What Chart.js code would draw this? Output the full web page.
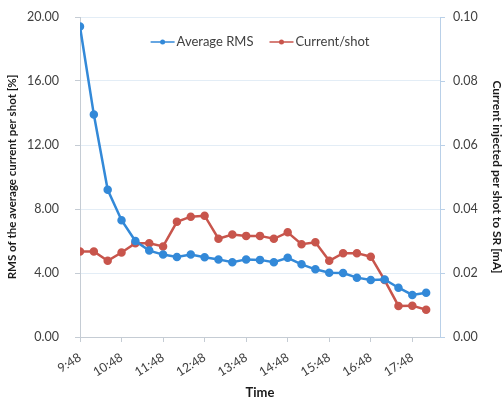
<!DOCTYPE html>
<html>
<head>
<meta charset="utf-8">
<script src="https://cdn.jsdelivr.net/npm/chart.js@4.4.1/dist/chart.umd.min.js"></script>
<style>
  html, body { margin: 0; padding: 0; background: #fff; }
  #wrap { width: 504px; height: 399px; position: relative; }
</style>
</head>
<body>
<div id="wrap"><canvas id="myChart"></canvas></div>
<script>
// data
const times = ['9:48', '10:08', '10:28', '10:48', '11:08', '11:28', '11:48', '12:08', '12:28',
    '12:48', '13:08', '13:28', '13:48', '14:08', '14:28', '14:48', '15:08', '15:28',
    '15:48', '16:08', '16:28', '16:48', '17:08', '17:28', '17:48', '18:08'];
const avgRms = [19.4, 13.9, 9.2, 7.3, 6.0, 5.4, 5.15, 5.0, 5.15, 4.98, 4.85, 4.67, 4.85,
    4.82, 4.67, 4.95, 4.54, 4.23, 4.02, 4.0, 3.71, 3.56, 3.6, 3.08, 2.63, 2.77];
const currentShot = [0.0267, 0.0267, 0.0238, 0.0264, 0.0293, 0.0293, 0.0283, 0.036, 0.0376,
    0.0379, 0.0307, 0.032, 0.0316, 0.0316, 0.0307, 0.0327, 0.029, 0.0296, 0.0238, 0.0262,
    0.0262, 0.0251, 0.0178, 0.0097, 0.0098, 0.0085];
const timeTicks = ['9:48', '10:48', '11:48', '12:48', '13:48', '14:48', '15:48', '16:48', '17:48'];

const toMin = t => { const p = t.split(':'); return +p[0] * 60 + +p[1]; };
const start = toMin(times[0]);

const blue = '#3389d8';
const red = '#c8554c';
const txt = '#404040';
const font = 'Lato';

// legend sits inside the plot, centred near the top
const innerLegend = {
    id: 'innerLegend',
    afterDraw(chart) {
        const c = chart.ctx, area = chart.chartArea;
        c.save();
        c.font = '13px ' + font;
        c.textBaseline = 'middle';
        const sample = 24, gap = 2, between = 16;
        const items = chart.data.datasets.map(ds => ({ ds, w: sample + gap + c.measureText(ds.label).width }));
        const total = items.reduce((s, it) => s + it.w, 0) + between * (items.length - 1);
        let x = (area.left + area.right) / 2 - total / 2;
        const y = area.top + 25;
        items.forEach(it => {
            c.strokeStyle = it.ds.borderColor;
            c.fillStyle = it.ds.borderColor;
            c.lineWidth = 1.5;
            c.beginPath();
            c.moveTo(x, y);
            c.lineTo(x + sample, y);
            c.stroke();
            c.beginPath();
            c.arc(x + sample / 2, y, 2.5, 0, Math.PI * 2);
            c.fill();
            c.fillStyle = txt;
            c.fillText(it.ds.label, x + sample + gap, y);
            x += it.w + between;
        });
        c.restore();
    }
};

const noPad = scale => { scale.paddingTop = 0; scale.paddingBottom = 0; };

const ctx = document.getElementById('myChart').getContext('2d');
const myChart = new Chart(ctx, {
    type: 'line',
    data: {
        datasets: [{
            label: 'Average RMS',
            data: times.map((t, i) => ({ x: toMin(t) - start, y: avgRms[i] })),
            borderColor: blue,
            backgroundColor: blue,
            borderWidth: 2.5,
            pointRadius: 3,
            yAxisID: 'y'
        }, {
            label: 'Current/shot',
            data: times.map((t, i) => ({ x: toMin(t) - start, y: currentShot[i] })),
            borderColor: red,
            backgroundColor: red,
            borderWidth: 2.5,
            pointRadius: 3,
            yAxisID: 'y1'
        }]
    },
    plugins: [innerLegend],
    options: {
        responsive: true,
        maintainAspectRatio: false,
        animation: false,
        layout: { padding: { top: 17, left: 0, right: 0, bottom: 0 } },
        plugins: {
            tooltip: { enabled: false },
            legend: { display: false }
        },
        scales: {
            x: {
                type: 'linear',
                min: 0,
                max: 520,
                afterBuildTicks(scale) {
                    scale.ticks = timeTicks.map(t => ({ value: toMin(t) - start }));
                },
                afterFit(scale) { scale.height = 62; },
                ticks: {
                    autoSkip: false,
                    maxRotation: 32,
                    minRotation: 32,
                    padding: 8,
                    color: txt,
                    font: { family: font, size: 12.5 },
                    callback: (v, i) => timeTicks[i]
                },
                grid: { drawOnChartArea: false, tickLength: 5, color: '#c5ccd4' },
                border: { color: '#c5ccd4' },
                title: {
                    display: true,
                    text: 'Time',
                    color: '#1a1a1a',
                    font: { family: font, size: 13, weight: 'bold' },
                    padding: { top: 0, bottom: -2 }
                }
            },
            y: {
                position: 'left',
                min: 0,
                max: 20,
                afterFit(scale) { scale.width = 80; noPad(scale); },
                ticks: {
                    stepSize: 4,
                    padding: 16,
                    color: txt,
                    font: { family: font, size: 12.5 },
                    callback: v => v.toFixed(2)
                },
                grid: { color: '#e3edf6', tickLength: 5, tickColor: '#c5ccd4' },
                border: { color: '#c5ccd4' },
                title: {
                    display: true,
                    text: 'RMS of the average current per shot [%]',
                    color: '#1a1a1a',
                    font: { family: font, size: 11.5, weight: 'bold' },
                    padding: { top: 5, bottom: 0 }
                }
            },
            y1: {
                position: 'right',
                min: 0,
                max: 0.1,
                afterFit(scale) { scale.width = 64; noPad(scale); },
                ticks: {
                    stepSize: 0.02,
                    padding: 8,
                    color: txt,
                    font: { family: font, size: 12.5 },
                    callback: v => v.toFixed(2)
                },
                grid: { drawOnChartArea: false, tickLength: 5, color: '#b9d0e8' },
                border: { color: '#b9d0e8' },
                title: {
                    display: true,
                    text: 'Current injected per shot to SR [mA]',
                    color: '#1a1a1a',
                    font: { family: font, size: 12, weight: 'bold' },
                    padding: { top: 0, bottom: 0 }
                }
            }
        }
    }
});
</script>
</body>
</html>
